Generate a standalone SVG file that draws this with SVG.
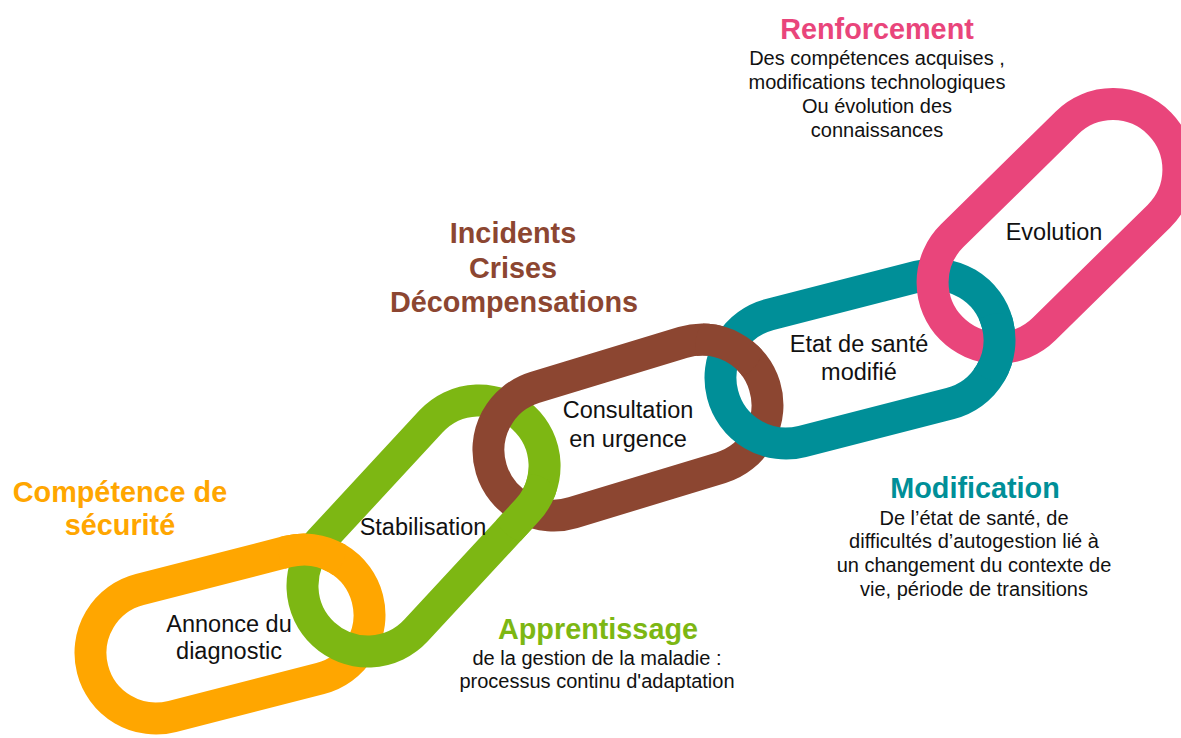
<svg xmlns="http://www.w3.org/2000/svg" xmlns:xlink="http://www.w3.org/1999/xlink" width="1181" height="738" viewBox="0 0 1181 738">
<style>
.ring{fill:none;stroke-width:32}
.o{stroke:#FFA600}.g{stroke:#7DB713}.b{stroke:#8C4631}.t{stroke:#008F98}.p{stroke:#E9457B}
.lbl{font-family:"Liberation Sans",Arial,sans-serif;font-size:23.5px;fill:#111;text-anchor:middle}
.ttl{font-family:"Liberation Sans",Arial,sans-serif;font-size:28.8px;font-weight:bold;text-anchor:middle}
.body{font-family:"Liberation Sans",Arial,sans-serif;font-size:20px;fill:#111;text-anchor:middle}
</style>
<defs>
<rect id="r-orange" class="ring o" x="-141.9" y="-65.5" width="283.8" height="131" rx="65.5" transform="translate(230,634) rotate(-14.4)"/>
<rect id="r-green" class="ring g" x="-147.2" y="-65.5" width="294.5" height="131" rx="65.5" transform="translate(423.5,526) rotate(-47.2)"/>
<rect id="r-brown" class="ring b" x="-142.9" y="-65.5" width="285.7" height="131" rx="65.5" transform="translate(628,427.5) rotate(-16.9)"/>
<rect id="r-teal" class="ring t" x="-141.9" y="-65.5" width="283.8" height="131" rx="65.5" transform="translate(860,359) rotate(-14.4)"/>
<rect id="r-pink" class="ring p" x="-146" y="-65.5" width="292" height="131" rx="65.5" transform="translate(1055.5,226) rotate(-44.5)"/>
<clipPath id="c1"><circle cx="312" cy="548" r="34"/></clipPath>
<clipPath id="c2"><circle cx="528" cy="508" r="34"/></clipPath>
<clipPath id="c3"><circle cx="729" cy="345" r="34"/></clipPath>
<clipPath id="c4"><circle cx="999" cy="347" r="34"/></clipPath>
</defs>
<rect width="1181" height="738" fill="#fff"/>
<g id="links">
<g id="link-annonce"><use xlink:href="#r-orange"/></g>
<g id="link-stabilisation"><use xlink:href="#r-green"/></g>
<g id="link-consultation"><use xlink:href="#r-brown"/></g>
<g id="link-etat"><use xlink:href="#r-teal"/></g>
<g id="link-evolution"><use xlink:href="#r-pink"/></g>
</g>
<g id="connectors">
<use xlink:href="#r-orange" clip-path="url(#c1)"/>
<use xlink:href="#r-green" clip-path="url(#c2)"/>
<use xlink:href="#r-brown" clip-path="url(#c3)"/>
<use xlink:href="#r-teal" clip-path="url(#c4)"/>
</g>
<g id="labels">
<text class="lbl" x="229" y="632">Annonce du</text>
<text class="lbl" x="229" y="659">diagnostic</text>
<text class="lbl" x="423" y="535">Stabilisation</text>
<text class="lbl" x="628" y="418">Consultation</text>
<text class="lbl" x="628" y="447">en urgence</text>
<text class="lbl" x="859" y="352">Etat de santé</text>
<text class="lbl" x="859" y="380">modifié</text>
<text class="lbl" x="1054" y="240">Evolution</text>
</g>
<g id="note-securite">
<text class="ttl" x="120" y="502" fill="#FFA600">Compétence de</text>
<text class="ttl" x="120" y="535" fill="#FFA600">sécurité</text>
</g>
<g id="note-apprentissage">
<text class="ttl" x="598" y="639" fill="#7DB713">Apprentissage</text>
<text class="body" x="597" y="665">de la gestion de la maladie :</text>
<text class="body" x="597" y="688">processus continu d'adaptation</text>
</g>
<g id="note-incidents">
<text class="ttl" x="513" y="243" fill="#8C4631">Incidents</text>
<text class="ttl" x="513" y="278" fill="#8C4631">Crises</text>
<text class="ttl" x="514" y="312" fill="#8C4631">Décompensations</text>
</g>
<g id="note-modification">
<text class="ttl" x="975" y="498" fill="#008F98">Modification</text>
<text class="body" x="974" y="525">De l’état de santé, de</text>
<text class="body" x="974" y="548">difficultés d’autogestion lié à</text>
<text class="body" x="974" y="572">un changement du contexte de</text>
<text class="body" x="974" y="596">vie, période de transitions</text>
</g>
<g id="note-renforcement">
<text class="ttl" x="877" y="39" fill="#E9457B">Renforcement</text>
<text class="body" x="877" y="65">Des compétences acquises ,</text>
<text class="body" x="877" y="89">modifications technologiques</text>
<text class="body" x="877" y="113">Ou évolution des</text>
<text class="body" x="877" y="137">connaissances</text>
</g>
</svg>
